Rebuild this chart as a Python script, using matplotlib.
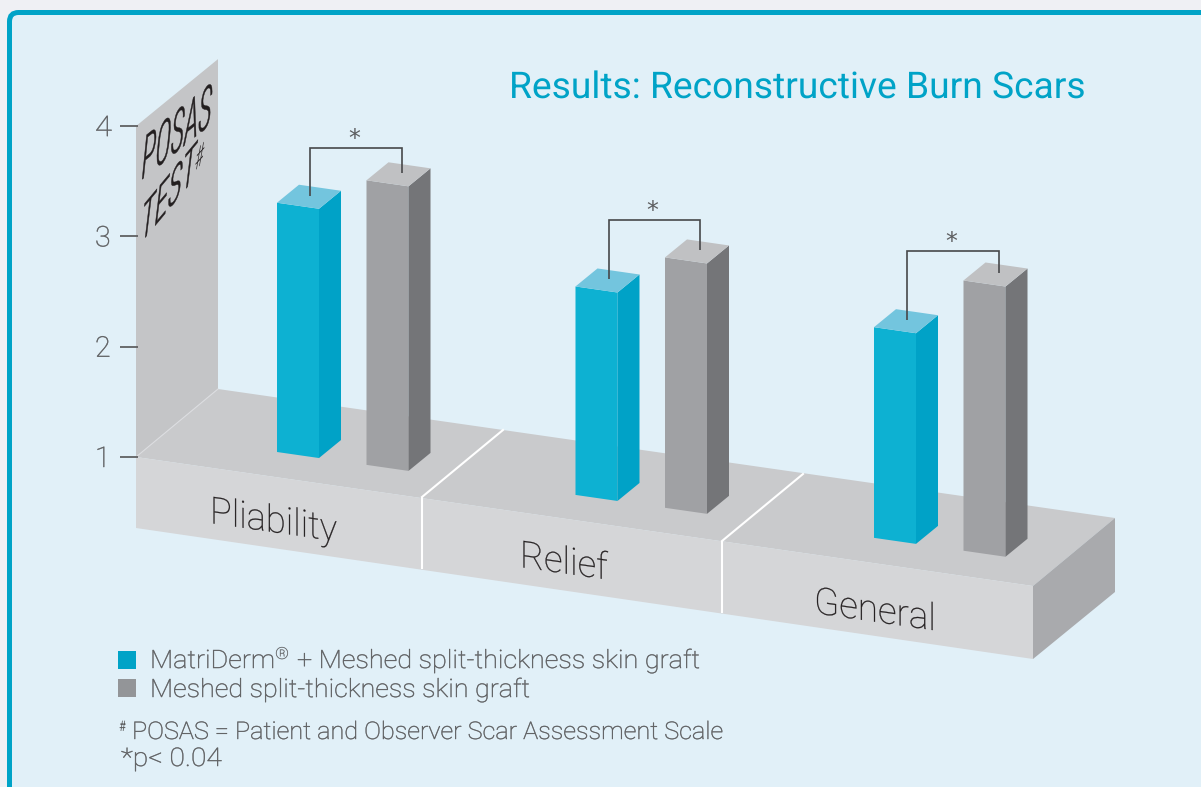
import matplotlib
matplotlib.use("Agg")
import matplotlib.pyplot as plt
from matplotlib.patches import Polygon, FancyBboxPatch, Rectangle
from matplotlib.patheffects import AbstractPathEffect
from matplotlib.transforms import Affine2D

# ---------- data ----------
categories = ["Pliability", "Relief", "General"]
matriderm_values = [3.26, 2.89, 2.91]
graft_values = [3.58, 3.27, 3.45]
axis_ticks = [1, 2, 3, 4]
series_names = ["MatriDerm\u00ae + Meshed split-thickness skin graft",
                "Meshed split-thickness skin graft"]
title_text = "Results: Reconstructive Burn Scars"
footnote_text = "POSAS = Patient and Observer Scar Assessment Scale"
p_text = "*p< 0.04"

# ---------- geometry / style ----------
W, H = 1201, 787
SLOPE = 0.1438
UNIT = 110.3
BAR_W = 42
DEPTH = (22, -18)
GROUP_X0, GROUP_STEP, PAIR_GAP = 277, 298.5, 89.5
BASE_Y = 452
BRACKET_CLEAR = [32, 37, 29]
CAT_ANCHORS = [(210, 523, 127), (520, 567, 88), (814, 613, 122)]

BG = "#e1f0f8"; OUTER = "#eff0f4"; CYAN = "#00a3c7"
TXT = "#5c5d5f"; DARK = "#231f20"
BLUE = ("#0db1d2", "#00a2c7", "#73c5de")
GREY = ("#a0a1a4", "#747578", "#c0c1c3")
FONT = "Roboto"

fig = plt.figure(figsize=(W/100, H/100), dpi=100, facecolor=OUTER)
ax = fig.add_axes([0, 0, 1, 1])
ax.set_xlim(0, W); ax.set_ylim(H, 0); ax.axis("off")
fig.canvas.draw()
rend = fig.canvas.get_renderer()


class Skew(AbstractPathEffect):
    """Scale, shear and slightly embolden glyph outlines about the text anchor."""
    def __init__(self, x0, y0, sx=1.0, k=0.0, lean=0.0, bold=0.0):
        super().__init__()
        self.bold = bold
        self.m = (Affine2D().translate(-x0, -y0)
                  + Affine2D.from_values(sx, k*sx, lean, 1, 0, 0)
                  + Affine2D().translate(x0, y0))

    def draw_path(self, renderer, gc, tpath, affine, rgbFace=None):
        gc0 = renderer.new_gc()
        gc0.copy_properties(gc)
        if self.bold:
            gc0.set_linewidth(self.bold)
            gc0.set_foreground(rgbFace)
        renderer.draw_path(gc0, tpath, affine + self.m, rgbFace)
        gc0.restore()


def label(x, y, s, width=None, k=0.0, lean=0.0, bold=0.0, **kw):
    """Baseline-left text fitted to a pixel width, with an optional shear. Returns right end."""
    kw.setdefault("family", FONT)
    kw.setdefault("color", TXT)
    t = ax.text(x, y, s, ha="left", va="baseline", zorder=kw.pop("zorder", 6), **kw)
    w = t.get_window_extent(rend).width
    sx = 1.0 if width is None else width / w
    x0, y0 = ax.transData.transform((x, y))
    t.set_path_effects([Skew(x0, y0, sx, k, lean, bold)])
    return x + w * sx


# panel
ax.add_patch(FancyBboxPatch((9.5, 12.5), W+40, H+40, boxstyle="round,pad=0,rounding_size=9",
                            fc=BG, ec=CYAN, lw=3.6, zorder=0))

# sheared value space: (x in px, value) -> figure px
to_px = Affine2D.from_values(1, SLOPE, 0, -UNIT, 0, BASE_Y - GROUP_X0*SLOPE + UNIT)
shear = to_px + ax.transData

# wall, floor
wall_y = lambda v: 457 - (v-1)*UNIT
ax.add_patch(Polygon([(136, wall_y(1)), (136, wall_y(4)), (218, wall_y(4)-67), (218, 389)],
                     fc="#c4c5c7", ec="none", zorder=1))
ax.add_patch(Polygon([(136, 457), (218, 389), (1115, 518), (1033, 586)], fc="#c9cacc", ec="none", zorder=2))
ax.add_patch(Polygon([(136, 457), (1033, 586), (1033, 659), (136, 528)], fc="#d5d6d8", ec="none", zorder=2))
ax.add_patch(Polygon([(1033, 586), (1115, 518), (1115, 592), (1033, 659)], fc="#a9aaad", ec="none", zorder=2))
ax.plot([136, 218], [457, 389], color="#dcdde0", lw=0.8, zorder=3)
for xf, yf, yb in [(422, 497, 569), (722, 541, 613)]:
    ax.plot([xf, xf], [yb, yf], color="white", lw=1.5, zorder=3, solid_capstyle="butt")
    ax.plot([xf, xf+81], [yf, yf-67], color="white", lw=1.5, zorder=3)

# ticks
for t in axis_ticks:
    ax.plot([120, 138], [wall_y(t)]*2, color="#5f6062", lw=1.3, zorder=4, solid_capstyle="butt")
    label(95, wall_y(t)+10, str(t), width=17 if t == 4 else None, fontsize=20.5, weight="light", bold=0.35)

# wall caption
COND = dict(family="Roboto Condensed", weight="light", color=DARK)
label(140, 181, "POSAS", width=70, k=0.8, lean=0.1, bold=0.3, fontsize=45, **COND)
end = label(139, 245, "TEST", width=55, k=1.2, lean=0.12, bold=0.3, fontsize=41, **COND)
label(end, 172, "#", width=9, k=1.1, lean=0.1, fontsize=22, **COND)

# bars
def bar3d(x, v, cols):
    ax.bar([x], [v-1], bottom=1, width=BAR_W, align="edge", color=cols[0], lw=0,
           transform=shear, zorder=5)
    (xl, yt), (xr, yr), (xb, yb) = to_px.transform([(x, v), (x+BAR_W, v), (x+BAR_W, 1)])
    dx, dy = DEPTH
    ax.add_patch(Polygon([(xr, yr), (xr+dx, yr+dy), (xb+dx, yb+dy), (xb, yb)], fc=cols[1], ec="none", zorder=5))
    ax.add_patch(Polygon([(xl, yt), (xl+dx, yt+dy), (xr+dx, yr+dy), (xr, yr)], fc=cols[2], ec="none", zorder=5))
    return xl, yt

for i, (a, b) in enumerate(zip(matriderm_values, graft_values)):
    x0 = GROUP_X0 + i*GROUP_STEP
    x1 = x0 + PAIR_GAP
    xa, ya = bar3d(x0, a, BLUE)
    xb, yb = bar3d(x1, b, GREY)
    top = yb - BRACKET_CLEAR[i]
    lx, rx = xa + 33, xb + 35
    ax.plot([lx, lx, rx, rx], [ya-7, top, top, yb-7], color="#47484a", lw=1.2, zorder=6,
            solid_joinstyle="miter", solid_capstyle="butt")
    ax.text((lx+rx)/2 - 2, top-9, "*", ha="center", va="center", fontsize=17, color=TXT,
            family="DejaVu Sans", zorder=6)

# category labels
for c, (cx, cy, cw) in zip(categories, CAT_ANCHORS):
    label(cx, cy, c, width=cw, k=-SLOPE, fontsize=27, weight="light", color=DARK, bold=0.2)

# title
label(509, 98, title_text, width=576, fontsize=26.5, color=CYAN, weight="normal")

# legend
LEG = dict(fontsize=18.2, weight="light", bold=0.35)
for (y, col, name) in zip([651, 679], [CYAN, "#939598"], series_names):
    ax.add_patch(Rectangle((118, y), 18, 18, fc=col, ec="none", zorder=4))
    parts = name.split("\u00ae")
    if len(parts) > 1:
        e1 = label(150, y+17, parts[0], width=125, **LEG)
        label(e1, y+8, "\u00ae", width=14, fontsize=12, weight="light", bold=0.2)
        label(297, y+17, parts[1].strip(), width=403, **LEG)
    else:
        label(150, y+18, name, width=380, **LEG)

# footnotes
label(119, 731, "#", width=7, fontsize=10.5)
label(132, 739, footnote_text, width=591, fontsize=17.5, weight="light", bold=0.35)
label(121, 766, p_text, width=101, fontsize=18.5, weight="light", bold=0.35)

fig.savefig("out.png", dpi=100, facecolor=OUTER)
